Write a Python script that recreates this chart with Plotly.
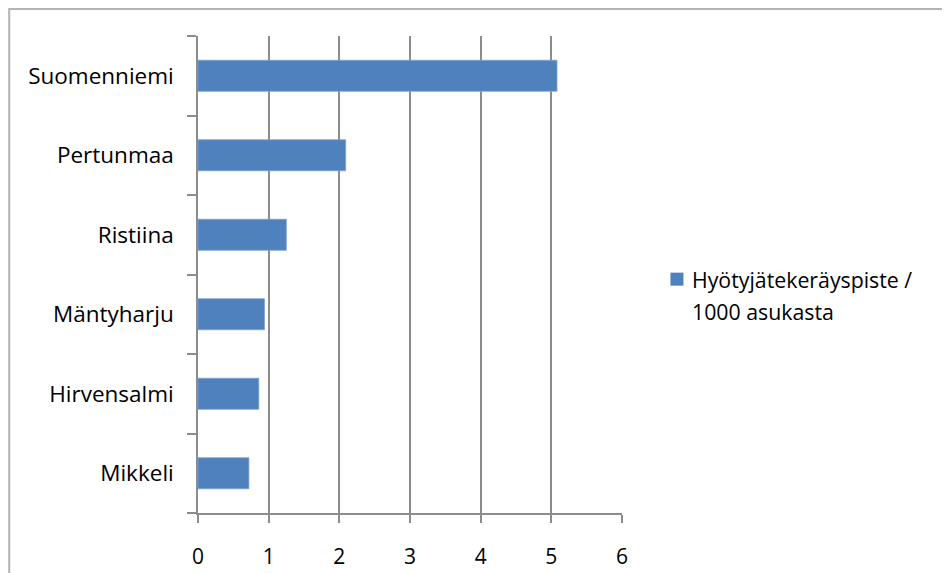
import plotly.graph_objects as go

# ---- data ----
categories = ["Mikkeli", "Hirvensalmi", "Mäntyharju", "Ristiina", "Pertunmaa", "Suomenniemi"]
values = [0.72, 0.86, 0.94, 1.25, 2.09, 5.08]
series_name = "Hyötyjätekeräyspiste /"
series_name_2 = "1000 asukasta"
x_ticks = [0, 1, 2, 3, 4, 5, 6]

OFF = 8  # browser body margin
W, H = 950 - OFF, 573 - OFF
L, R, T, B = 198 - OFF, 622.5 - OFF, 36 - OFF, 512.7 - OFF
FONT = "Open Sans"
GRID = "#8c8c8c"
AXFS = 22.5
LEGFS = 21.3


def px(x):
    return (x - OFF - L) / (R - L)


def py(y):
    return (B - (y - OFF)) / (B - T)


fig = go.Figure()
fig.add_trace(go.Bar(
    y=categories, x=values, orientation="h", name=series_name,
    marker=dict(color="#4f81bd", line=dict(color="#7aa0d4", width=0.8)),
    showlegend=False,
))

fig.update_layout(
    width=W, height=H,
    margin=dict(l=L, r=W - R, t=T, b=H - B, pad=0, autoexpand=False),
    paper_bgcolor="white", plot_bgcolor="white",
    bargap=0.61,
    font=dict(family=FONT, size=AXFS, color="#000000"),
    xaxis=dict(
        range=[0, 6], tickvals=x_ticks, ticktext=[str(v) for v in x_ticks],
        showgrid=True, gridcolor=GRID, gridwidth=1.5,
        showline=True, linecolor=GRID, linewidth=1.5,
        ticks="outside", ticklen=8, tickcolor=GRID, tickwidth=1.5,
        ticklabelstandoff=16, zeroline=False, fixedrange=True, automargin=False,
        tickfont=dict(family=FONT, size=21, color="#000000"),
    ),
    yaxis=dict(
        type="category", categoryorder="array", categoryarray=categories,
        showgrid=False, showline=True, linecolor=GRID, linewidth=1.5,
        ticks="outside", ticklen=9, tickcolor=GRID, tickwidth=1.5,
        tickson="boundaries", ticklabelstandoff=18, fixedrange=True, automargin=False,
        tickfont=dict(family=FONT, size=AXFS, color="#000000"),
    ),
)

# chart border (Excel style)
fig.add_shape(type="rect", xref="paper", yref="paper",
              x0=px(9), x1=px(970), y0=py(9), y1=py(600),
              line=dict(color="#b3b3b3", width=2), fillcolor="rgba(0,0,0,0)", layer="below")

# legend (manual, two lines)
fig.add_shape(type="rect", xref="paper", yref="paper",
              x0=px(671), x1=px(684), y0=py(285.5), y1=py(272.5),
              line=dict(width=0), fillcolor="#4f81bd")
fig.add_annotation(xref="paper", yref="paper", x=px(691), y=py(279),
                   text=series_name, showarrow=False, xanchor="left", yanchor="middle",
                   font=dict(family=FONT, size=LEGFS, color="#000000"))
fig.add_annotation(xref="paper", yref="paper", x=px(691), y=py(311),
                   text=series_name_2, showarrow=False, xanchor="left", yanchor="middle",
                   font=dict(family=FONT, size=LEGFS, color="#000000"))

fig.write_html("out.html", config={"displayModeBar": False})
